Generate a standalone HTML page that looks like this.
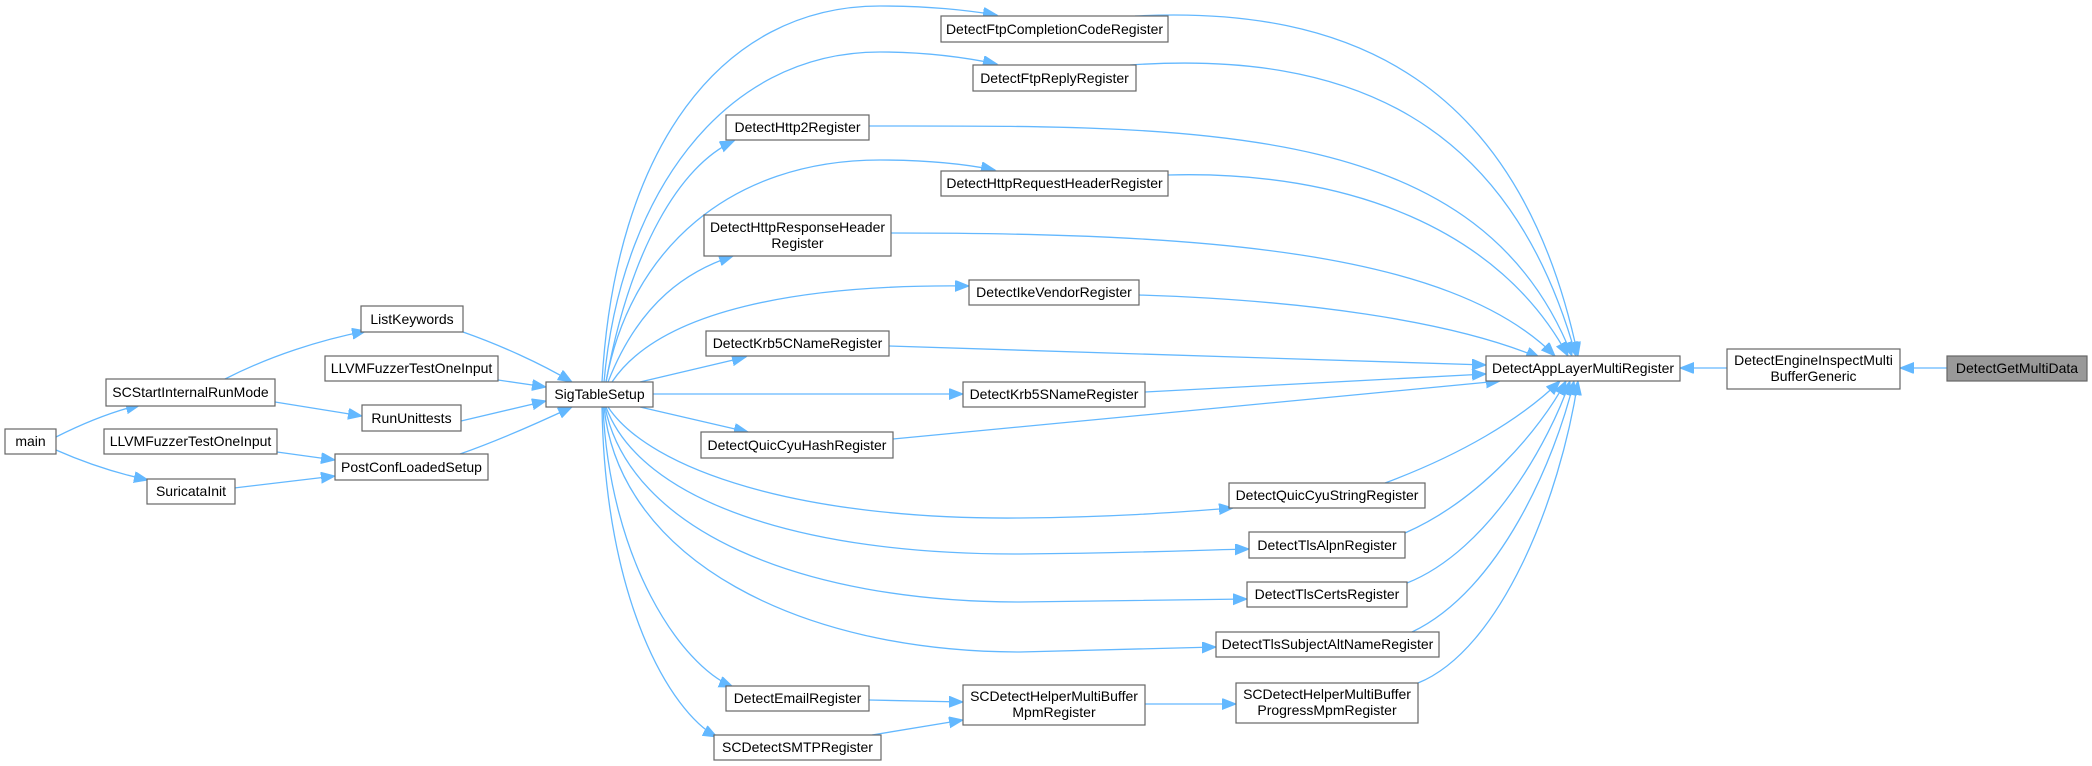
<!DOCTYPE html>
<html><head><meta charset="utf-8"><style>
html,body{margin:0;padding:0;background:#fff;}
svg{display:block;}
text{font-family:"Liberation Sans",Arial,sans-serif;font-size:14px;fill:#000;text-anchor:middle;}
.b{fill:#fff;stroke:#666;stroke-width:1.2;}
.e{fill:none;stroke:#63b8ff;stroke-width:1.3;marker-end:url(#a);}
</style></head><body>
<svg width="2092" height="766" viewBox="0 0 2092 766" xmlns="http://www.w3.org/2000/svg">
<defs><marker id="a" markerUnits="userSpaceOnUse" markerWidth="16" markerHeight="14" refX="14" refY="5.5" orient="auto"><path d="M0,0 L14,5.5 L0,11 z" fill="#63b8ff" stroke="#63b8ff"/></marker></defs>

<path class="e" d="M1947,368 L1900,368"/>
<path class="e" d="M1727,368 L1680,368"/>
<path class="e" d="M56,437 C80,425 110,412 140,405"/>
<path class="e" d="M56,450 C90,465 120,474 148,480"/>
<path class="e" d="M225,379 C270,356 320,340 366,331"/>
<path class="e" d="M275,402 L362,416"/>
<path class="e" d="M277,452 L335,460"/>
<path class="e" d="M234,488 L335,476"/>
<path class="e" d="M463,332 C500,345 540,363 572,382"/>
<path class="e" d="M498,380 L546,387"/>
<path class="e" d="M461,421 L546,401"/>
<path class="e" d="M460,454 C500,440 540,422 572,407"/>

<path class="e" d="M602,382 C615,150 720,6 880,6 C930,6 965,10 997,15"/>
<path class="e" d="M604,382 C620,200 720,52 880,52 C930,52 968,58 997,64"/>
<path class="e" d="M606,382 C630,250 680,165 734,141"/>
<path class="e" d="M606,382 C630,250 730,160 880,160 C930,160 965,164 995,170"/>
<path class="e" d="M608,382 C640,300 690,270 733,256"/>
<path class="e" d="M612,382 C660,310 800,284 969,286"/>
<path class="e" d="M640,382 L746,357"/>
<path class="e" d="M653,394 L963,394"/>
<path class="e" d="M640,407 L748,432"/>
<path class="e" d="M608,407 C650,470 800,520 1020,518 C1120,517 1180,512 1233,508"/>
<path class="e" d="M606,407 C640,500 800,555 1020,554 C1140,553 1200,550 1249,549"/>
<path class="e" d="M605,407 C630,530 800,602 1020,602 L1247,599"/>
<path class="e" d="M604,407 C620,560 800,652 1020,652 L1216,647"/>
<path class="e" d="M603,407 C610,560 680,665 733,687"/>
<path class="e" d="M602,407 C605,600 670,712 717,737"/>

<path class="e" d="M1135,16 C1350,5 1520,80 1578,356"/>
<path class="e" d="M1130,65 C1350,50 1510,120 1576,356"/>
<path class="e" d="M869,126 C1200,126 1480,120 1572,356"/>
<path class="e" d="M1168,175 C1350,170 1500,230 1568,356"/>
<path class="e" d="M891,233 C1200,233 1450,250 1555,356"/>
<path class="e" d="M1139,295 C1300,300 1450,320 1540,358"/>
<path class="e" d="M889,346 L1486,365"/>
<path class="e" d="M1145,392 L1486,374"/>
<path class="e" d="M893,439 L1500,381"/>
<path class="e" d="M1385,483 C1460,455 1520,420 1560,381"/>
<path class="e" d="M1405,533 C1480,500 1540,430 1566,381"/>
<path class="e" d="M1407,583 C1490,550 1550,440 1570,381"/>
<path class="e" d="M1412,632 C1500,590 1555,460 1574,381"/>
<path class="e" d="M1418,683 C1500,650 1560,500 1578,381"/>
<path class="e" d="M1145,704 L1236,704"/>
<path class="e" d="M869,700 L963,702"/>
<path class="e" d="M872,735 L963,720"/>

<rect class="b" x="5" y="429" width="51" height="25"/><text x="30.5" y="446">main</text>
<rect class="b" x="106" y="379" width="169" height="27"/><text x="190.5" y="397">SCStartInternalRunMode</text>
<rect class="b" x="104" y="429" width="173" height="25"/><text x="190.5" y="446">LLVMFuzzerTestOneInput</text>
<rect class="b" x="147" y="479" width="88" height="25"/><text x="191" y="496">SuricataInit</text>
<rect class="b" x="361" y="306" width="102" height="26"/><text x="412" y="324">ListKeywords</text>
<rect class="b" x="325" y="356" width="173" height="25"/><text x="411.5" y="373">LLVMFuzzerTestOneInput</text>
<rect class="b" x="362" y="405" width="99" height="26"/><text x="411.5" y="423">RunUnittests</text>
<rect class="b" x="335" y="454" width="153" height="26"/><text x="411.5" y="472">PostConfLoadedSetup</text>
<rect class="b" x="546" y="382" width="107" height="25"/><text x="599.5" y="399">SigTableSetup</text>

<rect class="b" x="941" y="16" width="227" height="26"/><text x="1054.5" y="34">DetectFtpCompletionCodeRegister</text>
<rect class="b" x="973" y="65" width="163" height="26"/><text x="1054.5" y="83">DetectFtpReplyRegister</text>
<rect class="b" x="726" y="115" width="143" height="25"/><text x="797.5" y="132">DetectHttp2Register</text>
<rect class="b" x="941" y="171" width="227" height="25"/><text x="1054.5" y="188">DetectHttpRequestHeaderRegister</text>
<rect class="b" x="704" y="215" width="187" height="41"/><text x="797.5" y="232">DetectHttpResponseHeader</text><text x="797.5" y="248">Register</text>
<rect class="b" x="969" y="280" width="170" height="25"/><text x="1054" y="297">DetectIkeVendorRegister</text>
<rect class="b" x="706" y="331" width="183" height="25"/><text x="797.5" y="348">DetectKrb5CNameRegister</text>
<rect class="b" x="963" y="382" width="182" height="25"/><text x="1054" y="399">DetectKrb5SNameRegister</text>
<rect class="b" x="701" y="432" width="192" height="26"/><text x="797" y="450">DetectQuicCyuHashRegister</text>
<rect class="b" x="726" y="686" width="143" height="25"/><text x="797.5" y="703">DetectEmailRegister</text>
<rect class="b" x="714" y="735" width="167" height="25"/><text x="797.5" y="752">SCDetectSMTPRegister</text>
<rect class="b" x="963" y="685" width="182" height="40"/><text x="1054" y="701">SCDetectHelperMultiBuffer</text><text x="1054" y="717">MpmRegister</text>

<rect class="b" x="1229" y="483" width="196" height="25"/><text x="1327" y="500">DetectQuicCyuStringRegister</text>
<rect class="b" x="1249" y="532" width="156" height="26"/><text x="1327" y="550">DetectTlsAlpnRegister</text>
<rect class="b" x="1247" y="582" width="160" height="25"/><text x="1327" y="599">DetectTlsCertsRegister</text>
<rect class="b" x="1216" y="632" width="223" height="25"/><text x="1327.5" y="649">DetectTlsSubjectAltNameRegister</text>
<rect class="b" x="1236" y="683" width="182" height="40"/><text x="1327" y="699">SCDetectHelperMultiBuffer</text><text x="1327" y="715">ProgressMpmRegister</text>

<rect class="b" x="1486" y="356" width="194" height="25"/><text x="1583" y="373">DetectAppLayerMultiRegister</text>
<rect class="b" x="1727" y="349" width="173" height="40"/><text x="1813.5" y="365">DetectEngineInspectMulti</text><text x="1813.5" y="381">BufferGeneric</text>
<rect x="1947" y="356" width="140" height="25" fill="#999" stroke="#666" stroke-width="1.2"/><text x="2017" y="373">DetectGetMultiData</text>
</svg>
</body></html>
